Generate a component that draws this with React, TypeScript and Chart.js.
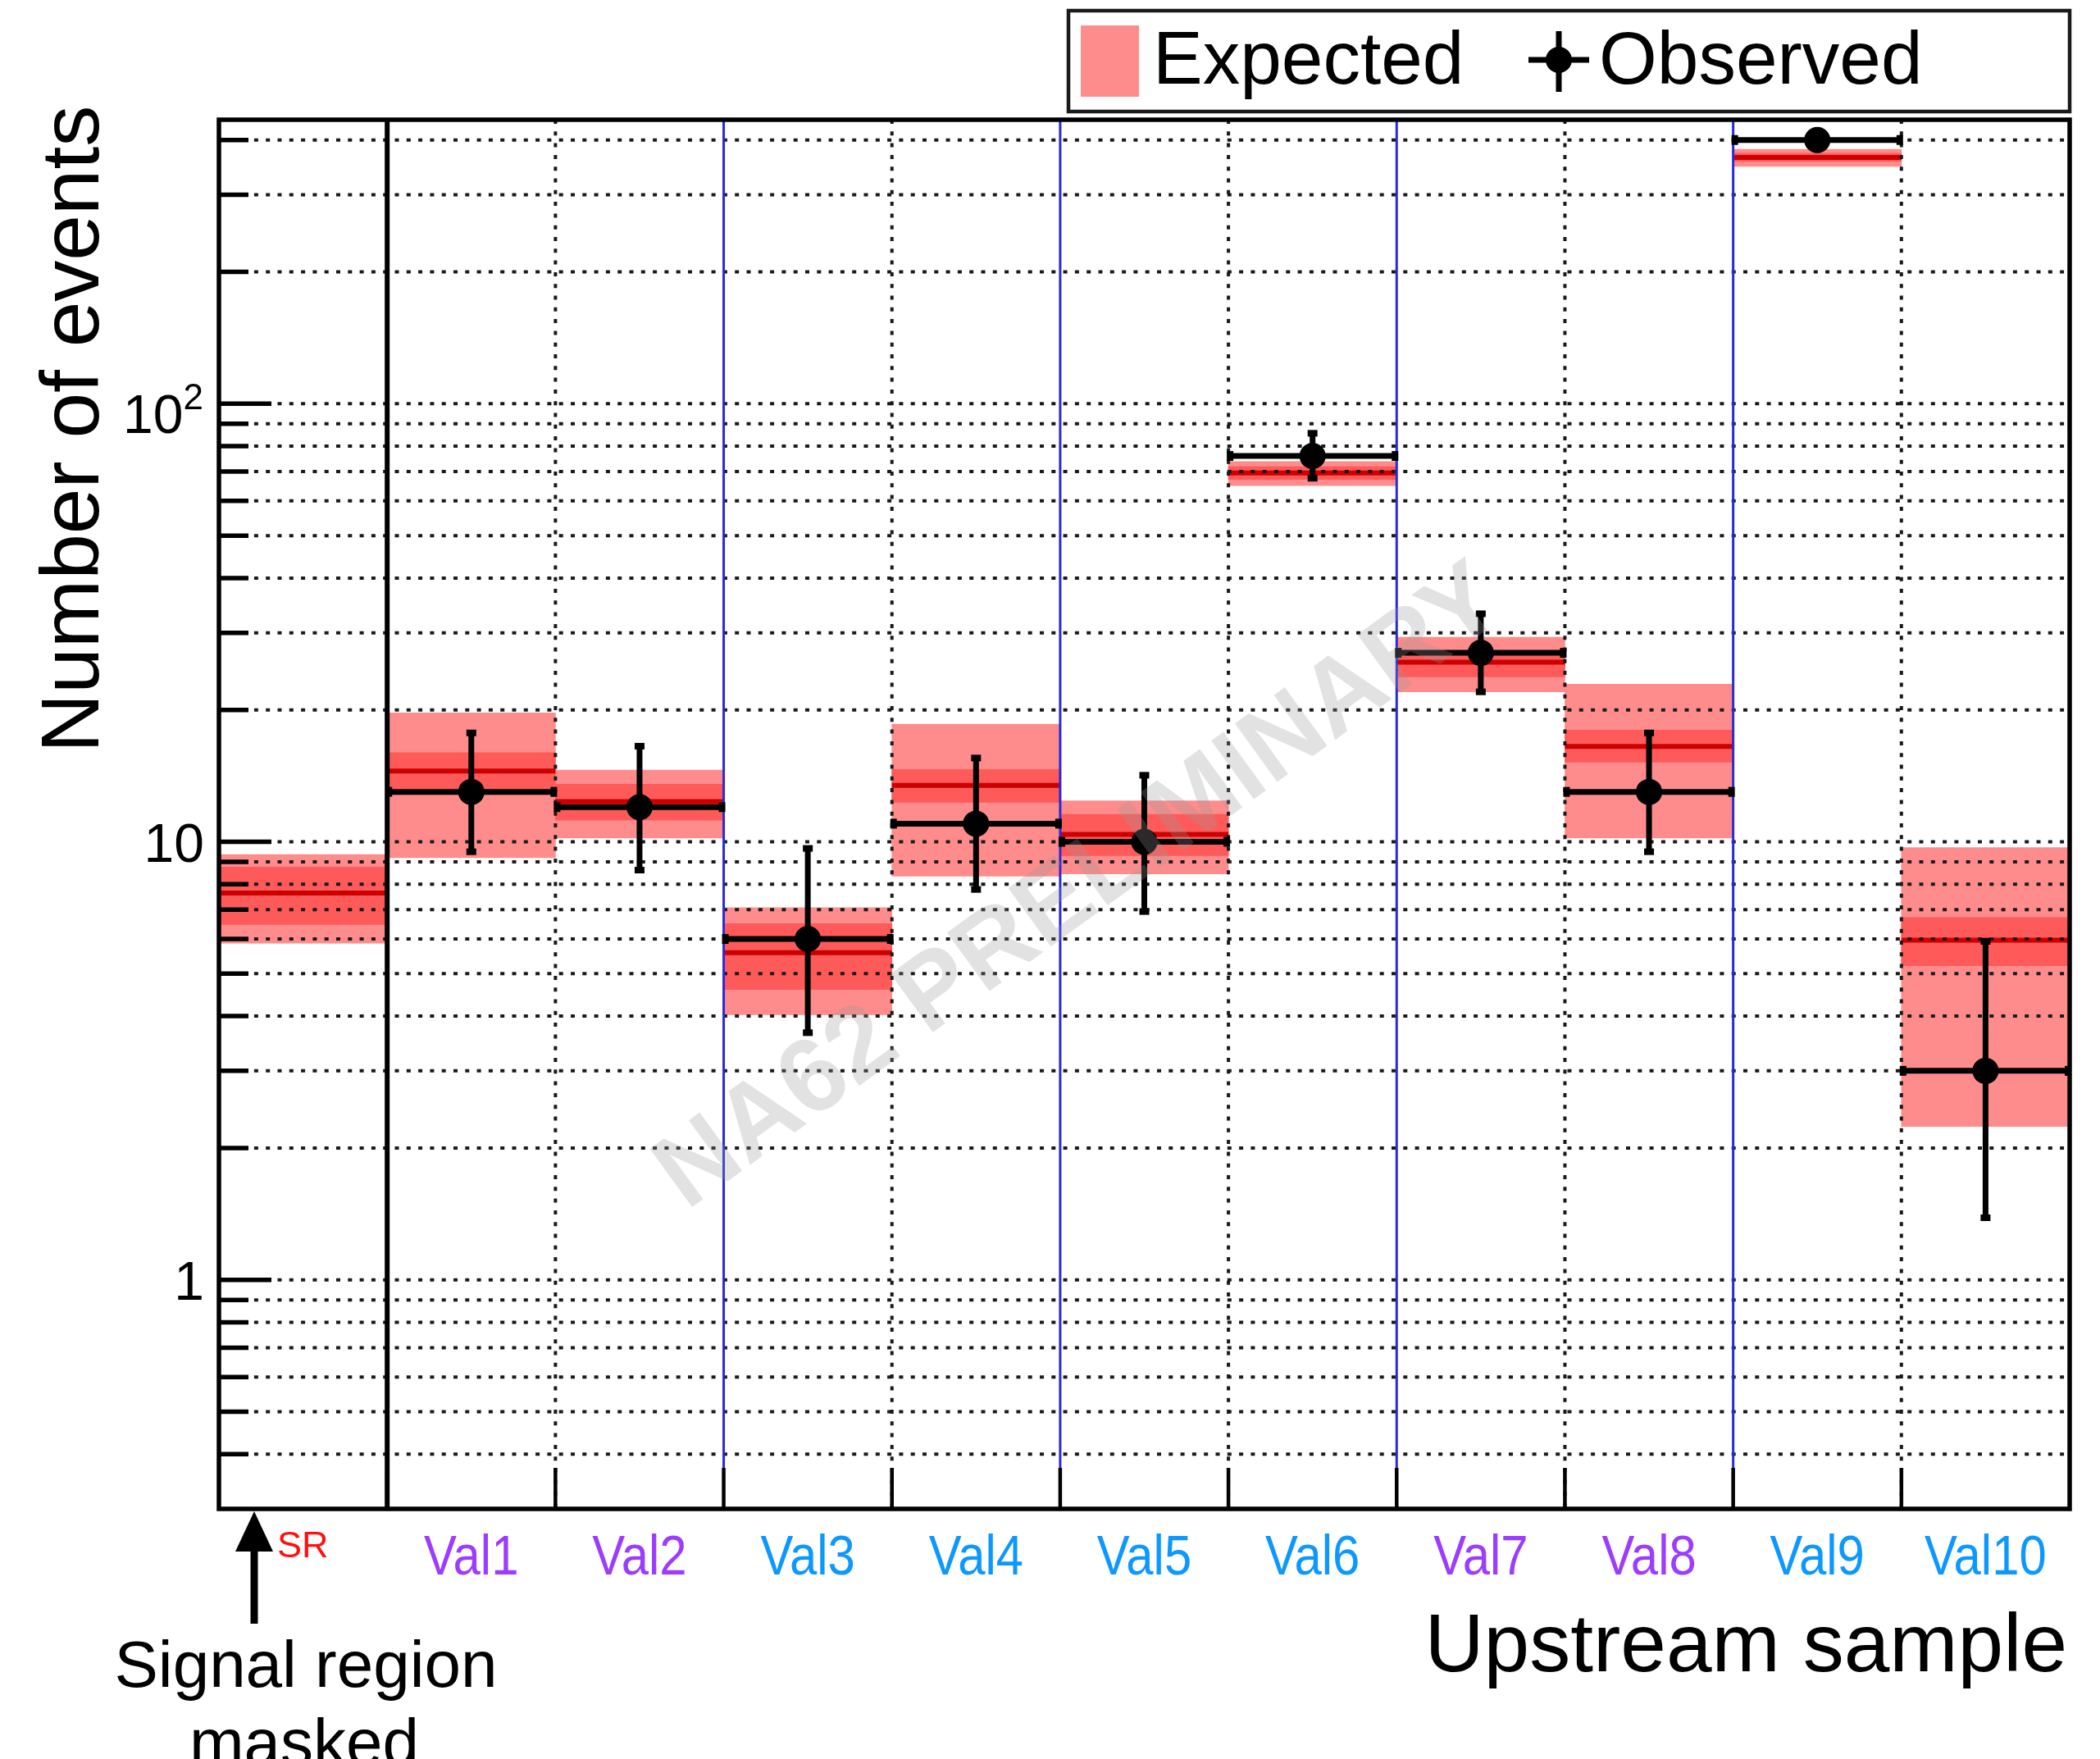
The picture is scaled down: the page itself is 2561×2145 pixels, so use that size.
import { useEffect, useRef } from 'react';
import { Chart, registerables } from 'chart.js';

Chart.register(...registerables);

// Bins: the masked signal region followed by ten validation samples
const categories = ['SR', 'Val1', 'Val2', 'Val3', 'Val4', 'Val5', 'Val6', 'Val7', 'Val8', 'Val9', 'Val10'];
const labelColors = ['#ff1010', '#9b3cff', '#9b3cff', '#0c98ff', '#0c98ff', '#0c98ff', '#0c98ff', '#9b3cff', '#9b3cff', '#0c98ff', '#0c98ff'];

// Expected number of events: central value, inner and outer uncertainty bands
const expected = [7.64, 14.5, 12.35, 5.58, 13.45, 10.4, 69.5, 25.7, 16.5, 365, 5.96];
const innerLow = [6.47, 13.2, 11.2, 4.6, 12.3, 9.3, 67.2, 23.8, 15.2, 357.5, 5.21];
const innerHigh = [8.76, 15.97, 13.54, 6.5, 14.63, 11.55, 71.8, 27.0, 17.98, 373, 6.72];
const outerLow = [5.87, 9.2, 10.2, 4.03, 8.35, 8.45, 65.0, 22.0, 10.2, 348, 2.24];
const outerHigh = [9.35, 19.7, 14.57, 7.07, 18.55, 12.4, 73.8, 29.3, 22.9, 381, 9.7];

// Observed events (signal region masked) with their 68% intervals
const observed = [null, 13, 12, 6, 11, 10, 76, 27, 13, 400, 3];
const observedLow = [null, 9.45, 8.58, 3.65, 7.75, 6.9, 67.3, 21.9, 9.45, 381, 1.38];
const observedHigh = [null, 17.8, 16.6, 9.7, 15.6, 14.25, 86.0, 33.3, 17.8, 421, 5.95];

// Logarithmic y axis
const Y_MIN = 0.3;
const Y_MAX = 445;
const yGridValues = [0.4, 0.5, 0.6, 0.7, 0.8, 0.9, 1, 2, 3, 4, 5, 6, 7, 8, 9, 10, 20, 30, 40, 50, 60, 70, 80, 90, 100, 200, 300, 400];
const yLabelValues = [1, 10, 100];
const yLabelBases = ['1', '10', '10'];
const yLabelExponents = ['', '', '2'];

// Style of the line at each inner bin edge (edge k sits between bin k-1 and bin k)
const edgeStyles = ['solid', 'dotted', 'blue', 'dotted', 'blue', 'dotted', 'blue', 'dotted', 'blue', 'dotted'];

const OUTER = '#ff8c8c';
const INNER = '#ff5a5a';
const CENTRAL = '#cc0000';
const FONT = '"Liberation Sans", Arial, Helvetica, sans-serif';

export default function App() {
  const canvasRef = useRef<HTMLCanvasElement>(null);

  useEffect(() => {
    const canvas = canvasRef.current;
    if (!canvas) return;

    const decorations = {
      id: 'decorations',
      beforeDraw(chart: any) {
        const ctx = chart.ctx;
        ctx.save();
        ctx.fillStyle = '#ffffff';
        ctx.fillRect(0, 0, chart.width, chart.height);
        ctx.restore();
      },
      beforeDatasetDraw(chart: any, args: any) {
        if (args.index !== 2) return;
        const ctx = chart.ctx;
        const { left, right, top, bottom } = chart.chartArea;
        const xs = chart.scales.x;
        const ys = chart.scales.y;
        const binW = xs.getPixelForValue(1) - xs.getPixelForValue(0);

        ctx.save();
        ctx.beginPath();
        ctx.rect(left, top, right - left, bottom - top);
        ctx.clip();

        // central expected values
        ctx.strokeStyle = CENTRAL;
        ctx.lineWidth = 6;
        expected.forEach((v, i) => {
          const cx = xs.getPixelForValue(i);
          const y = ys.getPixelForValue(v);
          ctx.beginPath();
          ctx.moveTo(cx - binW / 2, y);
          ctx.lineTo(cx + binW / 2, y);
          ctx.stroke();
        });

        // dotted grid
        ctx.strokeStyle = '#1a1a1a';
        ctx.lineWidth = 4;
        ctx.setLineDash([5, 9.3]);
        yGridValues.forEach((v) => {
          const y = ys.getPixelForValue(v);
          ctx.beginPath();
          ctx.moveTo(left, y);
          ctx.lineTo(right, y);
          ctx.stroke();
        });
        edgeStyles.forEach((s, k) => {
          if (s !== 'dotted') return;
          const x = (xs.getPixelForValue(k) + xs.getPixelForValue(k + 1)) / 2;
          ctx.beginPath();
          ctx.moveTo(x, top);
          ctx.lineTo(x, bottom);
          ctx.stroke();
        });
        ctx.setLineDash([]);

        // region separators
        edgeStyles.forEach((s, k) => {
          if (s === 'dotted') return;
          const x = (xs.getPixelForValue(k) + xs.getPixelForValue(k + 1)) / 2;
          ctx.strokeStyle = s === 'blue' ? '#2a2ad8' : '#000000';
          ctx.lineWidth = s === 'blue' ? 3 : 6;
          ctx.beginPath();
          ctx.moveTo(x, top);
          ctx.lineTo(x, bottom);
          ctx.stroke();
        });

        // observed error bars
        ctx.strokeStyle = '#000000';
        ctx.fillStyle = '#000000';
        ctx.lineWidth = 7;
        observed.forEach((v, i) => {
          if (v === null) return;
          const cx = xs.getPixelForValue(i);
          const y = ys.getPixelForValue(v);
          const yHi = ys.getPixelForValue(observedHigh[i] as number);
          const yLo = ys.getPixelForValue(observedLow[i] as number);
          ctx.beginPath();
          ctx.moveTo(cx - binW / 2, y);
          ctx.lineTo(cx + binW / 2, y);
          ctx.moveTo(cx, yHi);
          ctx.lineTo(cx, yLo);
          ctx.stroke();
          ctx.fillRect(cx - 6, yHi - 3, 12, 8);
          ctx.fillRect(cx - 6, yLo - 5, 12, 8);
          ctx.fillRect(cx - binW / 2 - 2, y - 6, 8, 12);
          ctx.fillRect(cx + binW / 2 - 6, y - 6, 8, 12);
        });
        ctx.restore();
      },
      afterDatasetsDraw(chart: any) {
        const ctx = chart.ctx;
        const { left, right, top, bottom } = chart.chartArea;
        const xs = chart.scales.x;
        const ys = chart.scales.y;

        ctx.save();
        // bottom ticks at bin edges
        ctx.strokeStyle = '#000000';
        ctx.lineWidth = 4.5;
        edgeStyles.forEach((_, k) => {
          const x = (xs.getPixelForValue(k) + xs.getPixelForValue(k + 1)) / 2;
          ctx.beginPath();
          ctx.moveTo(x, bottom);
          ctx.lineTo(x, bottom - 50);
          ctx.stroke();
        });

        // y ticks
        ctx.lineWidth = 5.5;
        yGridValues.forEach((v) => {
          const y = ys.getPixelForValue(v);
          const len = yLabelValues.includes(v) ? 64 : 36;
          ctx.beginPath();
          ctx.moveTo(left, y);
          ctx.lineTo(left + len, y);
          ctx.stroke();
        });

        // frame
        ctx.lineWidth = 5.5;
        ctx.strokeRect(left, top, right - left, bottom - top);

        // y labels
        ctx.fillStyle = '#000000';
        ctx.textBaseline = 'alphabetic';
        yLabelValues.forEach((v, i) => {
          const y = ys.getPixelForValue(v);
          const exp = yLabelExponents[i];
          if (exp) {
            ctx.font = `44px ${FONT}`;
            ctx.textAlign = 'left';
            const ew = ctx.measureText(exp).width;
            const xr = 248 - ew;
            ctx.fillText(exp, xr, y + 7);
            ctx.font = `66px ${FONT}`;
            ctx.textAlign = 'right';
            ctx.fillText(yLabelBases[i], xr, y + 36);
          } else {
            ctx.font = `66px ${FONT}`;
            ctx.textAlign = 'right';
            ctx.fillText(yLabelBases[i], 249, y + 24);
          }
        });

        // y title
        ctx.save();
        ctx.translate(120, 918);
        ctx.rotate(-Math.PI / 2);
        ctx.font = `100px ${FONT}`;
        ctx.textAlign = 'left';
        ctx.fillText('Number of events', 0, 0);
        ctx.restore();

        // x labels
        categories.forEach((c, i) => {
          const cx = xs.getPixelForValue(i);
          ctx.fillStyle = labelColors[i];
          if (i === 0) {
            ctx.font = `45px ${FONT}`;
            ctx.textAlign = 'left';
            ctx.fillText(c, 338, 1899);
            return;
          }
          ctx.save();
          ctx.translate(cx, 1920);
          ctx.scale(0.88, 1);
          ctx.font = `68px ${FONT}`;
          ctx.textAlign = 'center';
          ctx.fillText(c, 0, 0);
          ctx.restore();
        });

        // arrow pointing at the masked signal region
        ctx.fillStyle = '#000000';
        ctx.strokeStyle = '#000000';
        ctx.lineWidth = 9;
        ctx.beginPath();
        ctx.moveTo(310, 1980);
        ctx.lineTo(310, 1885);
        ctx.stroke();
        ctx.beginPath();
        ctx.moveTo(310, 1843);
        ctx.lineTo(333, 1892);
        ctx.lineTo(287, 1892);
        ctx.closePath();
        ctx.fill();

        ctx.font = `80px ${FONT}`;
        ctx.textAlign = 'center';
        ctx.fillText('Signal region', 373, 2057);
        ctx.fillText('masked', 371, 2152);

        // x title
        ctx.font = `100px ${FONT}`;
        ctx.textAlign = 'right';
        ctx.fillText('Upstream sample', 2521, 2038);

        // legend
        ctx.fillStyle = '#ffffff';
        ctx.fillRect(1303, 13, 1221, 123);
        ctx.strokeStyle = '#1a1a1a';
        ctx.lineWidth = 4.5;
        ctx.strokeRect(1303, 13, 1221, 123);
        ctx.fillStyle = OUTER;
        ctx.fillRect(1318, 31, 71, 87);
        ctx.fillStyle = '#000000';
        ctx.font = `91px ${FONT}`;
        ctx.textAlign = 'left';
        ctx.fillText('Expected', 1406, 102);
        ctx.fillText('Observed', 1950, 102);
        ctx.strokeStyle = '#000000';
        ctx.lineWidth = 7;
        ctx.beginPath();
        ctx.moveTo(1864, 73);
        ctx.lineTo(1938, 73);
        ctx.moveTo(1901, 38);
        ctx.lineTo(1901, 112);
        ctx.stroke();
        ctx.beginPath();
        ctx.arc(1901, 73, 16, 0, Math.PI * 2);
        ctx.fill();

        // watermark
        ctx.save();
        ctx.translate(1318, 1084);
        ctx.rotate((-36 * Math.PI) / 180);
        ctx.font = `bold 128px ${FONT}`;
        ctx.textAlign = 'center';
        ctx.textBaseline = 'middle';
        ctx.fillStyle = 'rgba(150,150,150,0.28)';
        ctx.fillText('NA62 PRELIMINARY', 0, 0);
        ctx.restore();

        ctx.restore();
      },
    };

    const chart = new Chart(canvas, {
      type: 'bar',
      data: {
        labels: categories,
        datasets: [
          {
            type: 'bar',
            label: 'Expected',
            data: categories.map((_, i) => [outerLow[i], outerHigh[i]]),
            backgroundColor: OUTER,
            borderWidth: 0,
            barPercentage: 1,
            categoryPercentage: 1,
            grouped: false,
            order: 3,
          },
          {
            type: 'bar',
            label: 'Expected (inner band)',
            data: categories.map((_, i) => [innerLow[i], innerHigh[i]]),
            backgroundColor: INNER,
            borderWidth: 0,
            barPercentage: 1,
            categoryPercentage: 1,
            grouped: false,
            order: 2,
          },
          {
            type: 'line',
            label: 'Observed',
            data: observed,
            showLine: false,
            pointRadius: 16,
            pointHoverRadius: 16,
            pointBackgroundColor: '#000000',
            pointBorderColor: '#000000',
            pointBorderWidth: 0,
            order: 1,
          },
        ],
      } as any,
      options: {
        responsive: false,
        animation: false,
        devicePixelRatio: 1,
        events: [],
        layout: { padding: { left: 267, top: 146, right: 37, bottom: 305 } },
        plugins: {
          legend: { display: false },
          tooltip: { enabled: false },
          title: { display: false },
        },
        scales: {
          x: { type: 'category', offset: true, display: false },
          y: { type: 'logarithmic', min: Y_MIN, max: Y_MAX, display: false },
        },
      } as any,
      plugins: [decorations],
    });

    return () => chart.destroy();
  }, []);

  return (
    <div style={{ position: 'absolute', left: 0, top: 0, width: 2561, height: 2145, background: '#ffffff' }}>
      <canvas ref={canvasRef} width={2561} height={2145} style={{ display: 'block', width: 2561, height: 2145 }} />
    </div>
  );
}
